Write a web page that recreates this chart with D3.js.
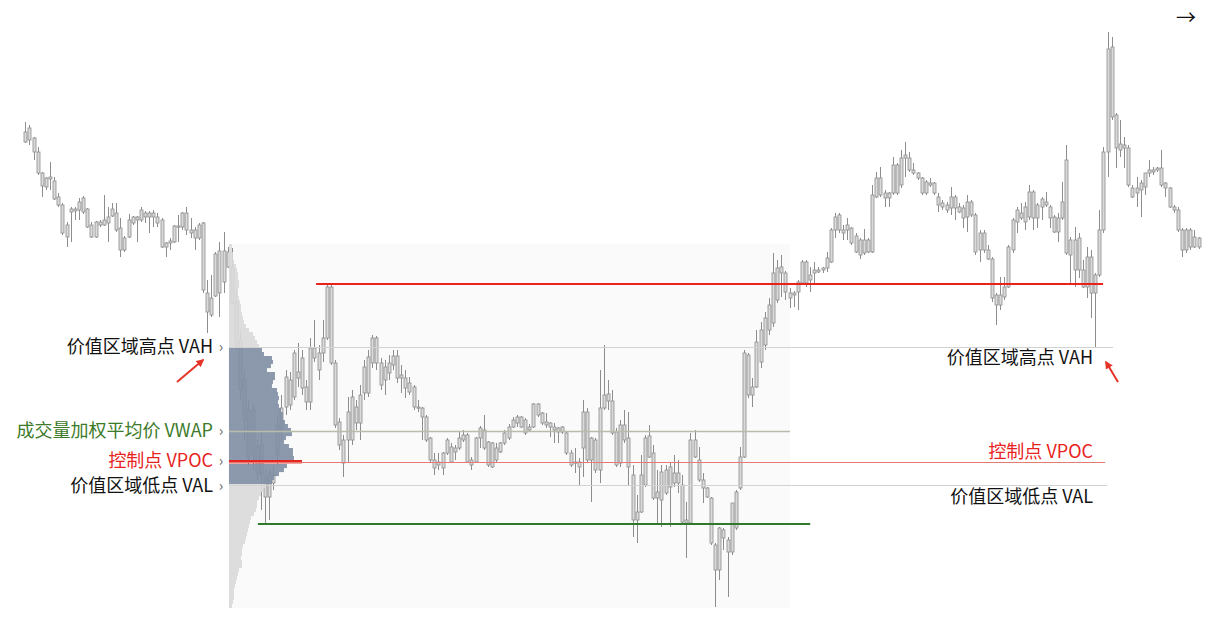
<!DOCTYPE html>
<html><head><meta charset="utf-8">
<script src="https://cdn.jsdelivr.net/npm/d3@7"></script>
<style>
body{margin:0;background:#fff;}
svg{display:block;font-family:"Noto Sans CJK SC","Noto Sans",sans-serif;}
</style>
</head><body>
<svg id="chart" width="1215" height="629"></svg>
<script>
// ---- candle data (price units) ----
const opens=[568,560,562,548,527,522,521,519,503,495,
475,488,489,490,488,491,475,463,475,475,
477,484,487,472,462,463,477,480,480,487,
483,487,483,480,457,457,458,473,473,487,
470,470,462,477,407,402,404,407,418,433,
433,398,360,320,290,245,253,225,223,203,
217,245,270,293,320,303,328,312,313,298,
342,347,347,362,413,337,278,260,260,260,
277,277,307,307,337,362,337,320,327,335,
344,325,322,317,313,293,292,283,262,240,
235,232,247,253,248,252,260,265,240,238,
262,270,258,257,240,248,257,262,273,277,
283,280,273,273,285,287,278,277,273,272,
268,267,247,238,238,252,288,262,260,230,
292,299,299,268,237,260,262,225,188,188,
215,243,247,208,200,207,213,227,217,215,
180,177,243,240,220,212,202,155,130,162,
160,148,172,212,243,305,313,313,338,355,
370,377,400,427,427,407,405,408,417,438,
425,427,428,430,432,438,470,470,470,470,
472,464,460,447,460,448,503,505,507,502,
507,535,515,542,542,530,527,522,518,515,
517,503,497,495,492,503,493,492,483,498,
485,467,467,450,441,405,395,403,413,450,
478,487,478,483,508,495,493,498,493,483,
482,482,540,445,460,430,430,413,443,425,
425,470,548,653,585,556,552,552,512,507,
510,513,527,530,530,532,517,512,493,490,
470,450,470,453,462];
const closes=[558,572,548,527,514,513,523,501,495,467,
463,491,491,498,502,473,463,478,478,480,
483,491,470,450,450,480,483,483,490,483,
487,483,477,453,453,459,474,474,487,470,
467,462,475,410,388,385,446,449,449,448,
397,355,310,280,243,290,227,255,203,227,
225,275,292,323,295,347,322,342,298,352,
352,330,362,413,337,275,255,237,288,303,
293,305,333,343,362,337,315,333,337,344,
322,322,312,308,293,292,283,260,240,232,
238,247,260,238,252,262,265,238,235,262,
272,252,235,233,252,257,267,273,280,283,
273,267,270,296,296,277,275,273,270,268,
273,247,235,237,233,288,240,240,230,292,
305,306,267,235,275,275,233,180,180,225,
262,264,202,202,228,230,233,217,227,178,
177,260,260,220,212,203,157,130,172,170,
148,197,208,243,347,345,305,358,370,382,
395,427,432,433,408,402,407,418,438,417,
420,430,430,432,442,470,483,485,467,475,
457,448,445,460,448,505,522,522,502,507,
535,507,542,545,530,527,522,507,507,517,
507,495,493,490,503,492,488,482,498,485,
448,450,450,441,402,395,405,413,453,480,
490,482,493,508,482,482,501,495,482,468,
468,498,447,460,430,462,413,443,407,407,
470,548,651,583,552,550,555,515,503,512,
517,527,530,528,532,515,512,493,490,470,
450,470,453,463,453];
const highs=[578,575,563,553,528,523,538,523,507,497,
478,493,493,502,504,492,478,479,480,505,
493,497,497,482,464,486,484,484,493,489,
489,490,487,482,458,462,475,485,488,493,
482,473,477,478,420,425,448,458,468,453,
452,410,370,330,300,295,260,270,230,230,
235,285,305,330,328,350,357,350,320,362,
380,355,380,415,415,340,282,265,303,310,
300,315,340,350,365,364,342,340,345,350,
350,335,330,323,315,300,293,285,263,247,
247,248,262,257,255,268,270,267,243,263,
274,285,259,258,257,258,270,276,283,285,
284,282,276,297,297,288,287,278,277,273,
274,268,250,252,242,300,292,263,262,330,
355,320,310,272,280,290,288,235,205,245,
265,275,255,230,235,235,238,245,240,225,
198,267,270,253,227,213,203,157,173,172,
163,197,210,253,350,347,322,370,378,388,
402,447,440,445,429,412,409,420,440,440,
433,438,433,433,448,472,487,487,475,482,
473,467,462,471,462,515,528,533,510,508,
543,537,550,558,548,537,528,523,520,522,
518,507,500,498,513,505,497,495,505,500,
487,470,470,455,443,407,423,423,455,482,
493,497,498,515,510,497,503,508,495,485,
487,518,555,463,473,467,440,453,450,427,
490,553,668,663,587,580,563,555,515,523,
520,527,540,533,533,550,518,513,495,493,
472,472,472,470,463];
const lows=[557,555,540,525,503,510,510,500,493,465,
453,458,480,480,486,472,462,462,473,474,
458,483,468,443,448,462,475,458,478,477,
467,473,473,452,443,450,457,458,470,465,
462,450,460,407,367,383,403,383,407,432,
395,350,300,260,235,230,220,190,177,180,
210,235,260,285,290,300,313,305,290,290,
338,320,338,360,335,272,250,223,237,255,
270,260,300,303,332,330,310,305,320,330,
317,307,302,305,290,288,260,258,238,225,
230,225,245,237,240,250,258,237,230,237,
252,250,233,232,238,247,255,260,272,273,
272,265,268,272,283,275,272,263,257,257,
266,245,233,227,215,223,238,198,227,217,
290,290,265,233,233,257,215,163,157,187,
213,242,200,177,173,205,173,213,207,177,
142,175,242,218,197,202,155,93,120,150,
103,145,170,210,242,302,293,312,332,350,
365,373,397,403,400,392,393,390,415,413,
408,417,427,427,428,437,462,467,460,460,
455,447,441,445,447,447,502,503,493,493,
505,505,512,523,528,525,520,505,505,513,
505,488,490,487,485,480,487,472,468,483,
445,438,447,440,398,375,390,400,412,447,
467,480,470,480,470,472,480,493,472,467,
458,480,445,417,413,422,412,402,382,352,
423,467,523,580,532,543,532,513,502,493,
483,505,523,525,528,513,503,492,487,468,
443,447,450,452,451];

// ---- volume profile ----
const profileLevels=[454,450,446,442,438,434,430,426,422,418,414,410,406,402,398,394,390,386,382,378,374,370,366,362,358,354,350,346,342,338,334,330,326,322,318,314,310,306,302,298,294,290,286,282,278,274,270,266,262,258,254,250,246,242,238,234,230,226,222,218,214,210,206,202,198,194,190,186,182,178,174,170,166,162,158,154,150,146,142,138,134,130,126,122,118,114,110,106,102,98,94];
const profileVolumes=[3,3,4,4,5,7,8,9,9,10,10,9,9,10,11,12,12,13,14,15,17,20,24,26,28,30,33,35,43,44,42,38,46,46,44,43,48,49,50,49,50,52,54,54,56,59,62,63,57,55,60,64,64,65,73,58,55,50,45,43,36,34,32,30,28,28,27,25,22,21,20,19,18,17,16,14,13,13,12,13,13,10,9,8,7,6,5,5,5,4,3];

// ---- key levels ----
const levelNames=["VAH","VWAP","VPOC","VAL"];
const levelPrices=[353,269,238,215];
const levelEndIndex=[263.3,185.1,261.4,261.9];
const profileStartIndex=49.3, profileEndIndex=185.1;
const resistancePrice=416, resistanceRange=[70.4,260.9];
const supportPrice=176, supportRange=[56.3,190];
const leftLabels=["价值区域高点 VAH","成交量加权平均价 VWAP","控制点 VPOC","价值区域低点 VAL"];
const leftColors=["#111","#3b7a28","#e8231d","#111"];
const leftNudge=[0,0,-1,1];
const rightLabels=["价值区域高点 VAH","控制点 VPOC","价值区域低点 VAL"];
const rightLevelIdx=[0,2,3];
const rightOffsets=[11,-10,12];
const rightColors=["#111","#e8231d","#111"];

const svg=d3.select("#chart");
const n=opens.length;
const x=d3.scaleLinear().domain([0,n-1]).range([25.3,1198.5]);
const y=d3.scaleLinear().domain([94,668]).range([606,32]);
const vx=d3.scaleLinear().domain([0,d3.max(profileVolumes)]).range([0,73]);

// profile background
const pTop=y(456), pBot=y(92);
svg.append("rect").attr("x",x(profileStartIndex)).attr("y",pTop)
  .attr("width",x(profileEndIndex)-x(profileStartIndex)).attr("height",pBot-pTop)
  .attr("fill","#fafafa");

// candles
const g=svg.append("g");
const idx=d3.range(n);
g.selectAll("line.w").data(idx).join("line").attr("class","w")
  .attr("x1",i=>Math.round(x(i))+0.5).attr("x2",i=>Math.round(x(i))+0.5)
  .attr("y1",i=>y(highs[i])).attr("y2",i=>y(lows[i]))
  .attr("stroke","#8d8d8d").attr("stroke-width",1);
g.selectAll("rect.b").data(idx).join("rect").attr("class","b")
  .attr("x",i=>Math.round(x(i))-1).attr("width",3)
  .attr("y",i=>y(Math.max(opens[i],closes[i])))
  .attr("height",i=>Math.max(1.2,Math.abs(y(opens[i])-y(closes[i]))))
  .attr("fill","#dadada").attr("stroke","#8d8d8d").attr("stroke-width",0.8);

// volume profile
const vah=levelPrices[0], val=levelPrices[3], vpoc=levelPrices[2];
svg.append("g").selectAll("rect").data(profileLevels).join("rect")
  .attr("x",x(profileStartIndex))
  .attr("y",p=>y(p+2)).attr("height",p=>p===vpoc?3.4:4.1)
  .attr("width",(p,i)=>vx(profileVolumes[i]))
  .attr("fill",p=>p===vpoc?"#e5251f":(p<=vah&&p>=val?"#7f8ea3":"#d9d9d9"))
  .attr("opacity",p=>p===vpoc?1:0.9);

// level lines
const lineColors=["#d2d2d2","#b9bca8","#e47a72","#d2d2d2"];
levelPrices.forEach((p,k)=>{
  svg.append("line").attr("x1",x(profileStartIndex)).attr("x2",x(levelEndIndex[k]))
    .attr("y1",Math.round(y(p))+0.5).attr("y2",Math.round(y(p))+0.5)
    .attr("stroke",lineColors[k]).attr("stroke-width",k===1?1.5:1.2);
});
svg.append("line").attr("x1",x(resistanceRange[0])).attr("x2",x(resistanceRange[1]))
  .attr("y1",y(resistancePrice)).attr("y2",y(resistancePrice))
  .attr("stroke","#e8231d").attr("stroke-width",2);
svg.append("line").attr("x1",x(supportRange[0])).attr("x2",x(supportRange[1]))
  .attr("y1",y(supportPrice)).attr("y2",y(supportPrice))
  .attr("stroke","#2e7a2a").attr("stroke-width",2);

// left labels
leftLabels.forEach((t,k)=>{
  const yy=y(levelPrices[k])+leftNudge[k];
  svg.append("text").attr("x",213).attr("y",yy).attr("dy","0.35em")
    .attr("text-anchor","end").attr("font-size",18).attr("fill",leftColors[k]).text(t);
  svg.append("text").attr("x",221).attr("y",yy).attr("dy","0.3em")
    .attr("text-anchor","middle").attr("font-size",15).attr("fill","#666").text("›");
});
// right labels
rightLabels.forEach((t,k)=>{
  const yy=y(levelPrices[rightLevelIdx[k]])+rightOffsets[k];
  svg.append("text").attr("x",1093).attr("y",yy).attr("dy","0.35em")
    .attr("text-anchor","end").attr("font-size",18).attr("fill",rightColors[k]).text(t);
});

// red arrows
const defs=svg.append("defs");
defs.append("marker").attr("id","ah").attr("viewBox","0 0 10 10").attr("refX",8).attr("refY",5)
  .attr("markerWidth",4).attr("markerHeight",4).attr("orient","auto")
  .append("path").attr("d","M0,0L10,5L0,10z").attr("fill","#e5332a");
[[177,382,203,360],[1118,382,1106,362]].forEach(a=>{
  svg.append("line").attr("x1",a[0]).attr("y1",a[1]).attr("x2",a[2]).attr("y2",a[3])
    .attr("stroke","#e5332a").attr("stroke-width",2).attr("marker-end","url(#ah)");
});

// top-right arrow glyph
svg.append("text").attr("x",1186).attr("y",18).attr("dy","0.35em").attr("text-anchor","middle")
  .attr("font-size",20).attr("fill","#111").text("→");
</script>
</body></html>
